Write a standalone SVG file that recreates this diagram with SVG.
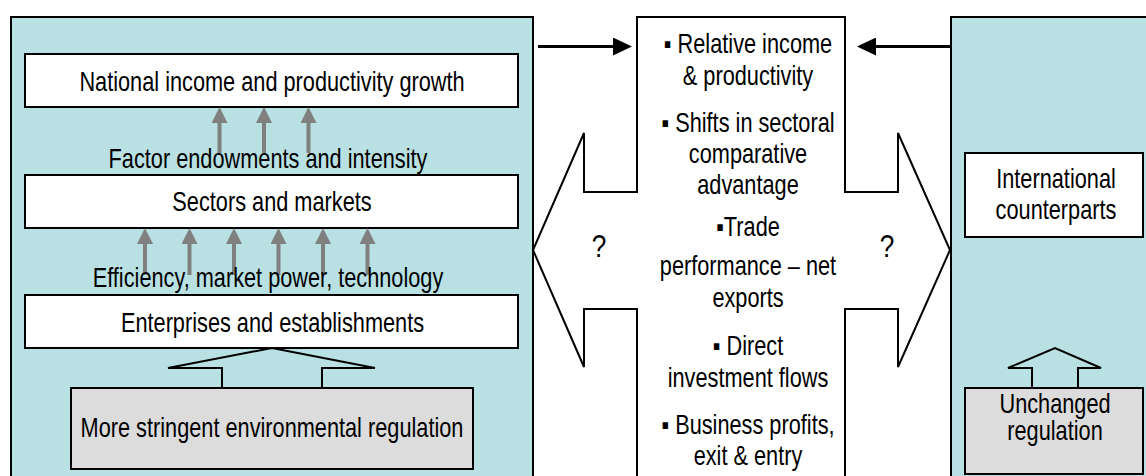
<svg xmlns="http://www.w3.org/2000/svg" width="1146" height="476" viewBox="0 0 1146 476">
<style>
.panel{fill:#b9e0e3;stroke:#000;stroke-width:2}
.box{fill:#fff;stroke:#000;stroke-width:2}
.gbox{fill:#dcdcdc;stroke:#000;stroke-width:2}
.barrow{fill:#b9e0e3;stroke:#000;stroke-width:2;stroke-linejoin:miter}
.t{font-family:"Liberation Sans","Arial",sans-serif;font-size:27px;fill:#000;text-anchor:middle}
.q{font-family:"Liberation Sans","Arial",sans-serif;font-size:32px;fill:#000;text-anchor:middle}
.garr{stroke:#808080;stroke-width:4;fill:none}
.karr{stroke:#000;stroke-width:3;fill:none}
</style>
<defs>
<marker id="ghead" viewBox="0 0 16 16" markerWidth="16" markerHeight="16" refX="0" refY="8" orient="auto" markerUnits="userSpaceOnUse">
<path d="M0,0 L16,8 L0,16 Z" fill="#808080"/>
</marker>
<marker id="khead" viewBox="0 0 19 18" markerWidth="19" markerHeight="18" refX="0" refY="9" orient="auto" markerUnits="userSpaceOnUse">
<path d="M0,0 L19,9 L0,18 Z" fill="#000"/>
</marker>
</defs>
<rect width="1146" height="476" fill="#fff"/>

<g id="left-panel">
<rect class="panel" x="11" y="17" width="522" height="470"/>
</g>
<g id="right-panel">
<rect class="panel" x="951" y="17" width="210" height="470"/>
</g>

<g id="center-shape">
<path d="M637,17 H845 V192 H898 V133 L950,250 L898,367 V309 H845 V490 H637 V309 H584 V367 L533,250 L584,133 V192 H637 Z" fill="#fff" stroke="#000" stroke-width="2" stroke-linejoin="miter"/>
<text class="t" transform="translate(748 53) scale(0.805 1)">▪ Relative income</text>
<text class="t" transform="translate(748 85) scale(0.805 1)">&amp; productivity</text>
<text class="t" transform="translate(748 132) scale(0.805 1)">▪ Shifts in sectoral</text>
<text class="t" transform="translate(748 163) scale(0.805 1)">comparative</text>
<text class="t" transform="translate(748 194) scale(0.805 1)">advantage</text>
<text class="t" transform="translate(748 236) scale(0.805 1)">▪Trade</text>
<text class="t" transform="translate(748 275) scale(0.805 1)">performance – net</text>
<text class="t" transform="translate(748 307) scale(0.805 1)">exports</text>
<text class="t" transform="translate(748 355) scale(0.805 1)">▪ Direct</text>
<text class="t" transform="translate(748 387) scale(0.805 1)">investment flows</text>
<text class="t" transform="translate(748 434) scale(0.805 1)">▪ Business profits,</text>
<text class="t" transform="translate(748 465) scale(0.805 1)">exit &amp; entry</text>
<text class="q" transform="translate(599 257) scale(0.82 1)">?</text>
<text class="q" transform="translate(887 257) scale(0.82 1)">?</text>
</g>

<g id="node-national">
<rect class="box" x="25" y="54" width="493" height="53"/>
<text class="t" transform="translate(272 91) scale(0.805 1)">National income and productivity growth</text>
</g>
<g id="node-sectors">
<rect class="box" x="25" y="175" width="493" height="53"/>
<text class="t" transform="translate(272 211) scale(0.805 1)">Sectors and markets</text>
</g>
<g id="node-enterprises">
<rect class="box" x="25" y="295" width="493" height="53"/>
<text class="t" transform="translate(272.5 332) scale(0.805 1)">Enterprises and establishments</text>
</g>
<g id="node-stringent">
<path class="barrow" d="M222,388 V368 H168 L272,348 L375,368 H322 V388"/>
<rect class="gbox" x="71" y="388" width="402" height="81"/>
<text class="t" transform="translate(272 437) scale(0.805 1)">More stringent environmental regulation</text>
</g>
<g id="node-international">
<rect class="box" x="965" y="153" width="178" height="84"/>
<text class="t" transform="translate(1056 188) scale(0.805 1)">International</text>
<text class="t" transform="translate(1056 219) scale(0.805 1)">counterparts</text>
</g>
<g id="node-unchanged">
<path class="barrow" d="M1032,388 V368 H1008 L1055,348 L1101,368 H1078 V388"/>
<rect class="gbox" x="965" y="388" width="178" height="86"/>
<text class="t" transform="translate(1055 413) scale(0.805 1)">Unchanged</text>
<text class="t" transform="translate(1055 440) scale(0.805 1)">regulation</text>
</g>

<g id="connectors">
<line class="garr" x1="219.5" y1="153" x2="219.5" y2="123" marker-end="url(#ghead)"/>
<line class="garr" x1="264" y1="153" x2="264" y2="123" marker-end="url(#ghead)"/>
<line class="garr" x1="308.5" y1="153" x2="308.5" y2="123" marker-end="url(#ghead)"/>
<line class="garr" x1="145" y1="275" x2="145" y2="244" marker-end="url(#ghead)"/>
<line class="garr" x1="189.5" y1="275" x2="189.5" y2="244" marker-end="url(#ghead)"/>
<line class="garr" x1="234" y1="275" x2="234" y2="244" marker-end="url(#ghead)"/>
<line class="garr" x1="278.5" y1="275" x2="278.5" y2="244" marker-end="url(#ghead)"/>
<line class="garr" x1="323" y1="275" x2="323" y2="244" marker-end="url(#ghead)"/>
<line class="garr" x1="367.5" y1="275" x2="367.5" y2="244" marker-end="url(#ghead)"/>
<line class="karr" x1="538" y1="46.5" x2="613" y2="46.5" marker-end="url(#khead)"/>
<line class="karr" x1="950" y1="46.5" x2="876" y2="46.5" marker-end="url(#khead)"/>
</g>

<g id="labels">
<text class="t" transform="translate(268 168) scale(0.805 1)">Factor endowments and intensity</text>
<text class="t" transform="translate(268 287) scale(0.805 1)">Efficiency, market power, technology</text>
</g>
</svg>
